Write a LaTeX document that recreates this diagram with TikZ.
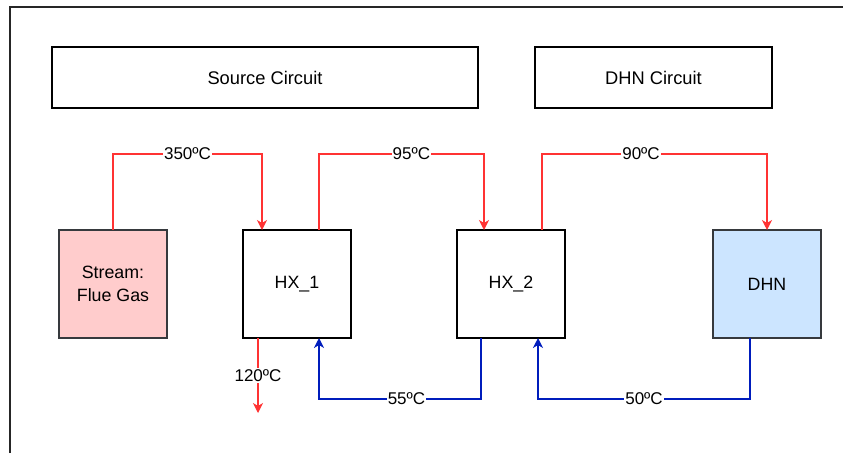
\documentclass[tikz,border=0pt]{standalone}
\usepackage{fontspec}
\setmainfont{Liberation Sans}
\usetikzlibrary{arrows.meta, positioning, calc}
\definecolor{hotred}{HTML}{FF3333}
\definecolor{coldblue}{HTML}{001DBC}
\definecolor{fluefill}{HTML}{FFCCCC}
\definecolor{dhnfill}{HTML}{CCE5FF}
\definecolor{greyedge}{HTML}{36393D}
\tikzstyle{unit} = [rectangle, minimum width=108pt, minimum height=108pt, outer sep=0pt, align=center, draw=black, line width=1.3pt, font=\fontsize{17.8}{23}\selectfont]
\tikzstyle{circuit} = [rectangle, minimum height=61pt, outer sep=0pt, draw=black, line width=1.3pt, font=\fontsize{18.3}{23}\selectfont]
\tikzstyle{temp} = [fill=white, inner sep=1pt, font=\fontsize{17}{20}\selectfont]
\tikzstyle{hot} = [line width=1.3pt, draw=hotred, -{Stealth[length=10pt, width=10pt, inset=3pt, fill=hotred]}]
\tikzstyle{cold} = [line width=1.3pt, draw=coldblue, -{Stealth[length=10pt, width=10pt, inset=3pt, fill=coldblue]}]

\begin{document}
\begin{tikzpicture}[x=1pt, y=-1pt, node distance=76pt]
    \useasboundingbox (0,0) rectangle (843,453);
    \draw [line width=1.3pt, draw=black!85] (10,453) -- (10,7) -- (843,7);

    \node (source) [circuit, minimum width=426pt] at (265,77.5) {Source Circuit};
    \node (dhncirc) [circuit, minimum width=237pt] at (653.5,77.5) {DHN Circuit};

    \node (stream) [unit, fill=fluefill, draw=greyedge] at (113,284) {Stream:\\Flue Gas};
    \node (hxa) [unit, right=of stream] {HX\_1};
    \node (hxb) [unit, right=106pt of hxa] {HX\_2};
    \node (dhn) [unit, fill=dhnfill, draw=greyedge, right=148pt of hxb] {DHN};
    \coordinate (flueout) at ($(hxa.south west)+(15,75)$);

    \draw [hot] (stream.north) |- node[temp, pos=0.75] {350ºC} ($(hxa.north west)+(19,-76)$) -- ($(hxa.north west)+(19,0)$);
    \draw [hot] ($(hxa.north west)+(76,0)$) |- node[temp, pos=0.78] {95ºC} ($(hxb.north west)+(27,-76)$) -- ($(hxb.north west)+(27,0)$);
    \draw [hot] ($(hxb.north west)+(85,0)$) |- node[temp, pos=0.72] {90ºC} ($(dhn.north west)+(54,-76)$) -- (dhn.north);
    \draw [hot] ($(hxa.south west)+(15,0)$) -- node[temp] {120ºC} (flueout);
    \draw [cold] ($(hxb.south west)+(24,0)$) |- node[temp, pos=0.73] {55ºC} ($(hxa.south west)+(76,61)$) -- ($(hxa.south west)+(76,0)$);
    \draw [cold] ($(dhn.south west)+(37,0)$) |- node[temp, pos=0.75] {50ºC} ($(hxb.south west)+(81,61)$) -- ($(hxb.south west)+(81,0)$);
\end{tikzpicture}
\end{document}
